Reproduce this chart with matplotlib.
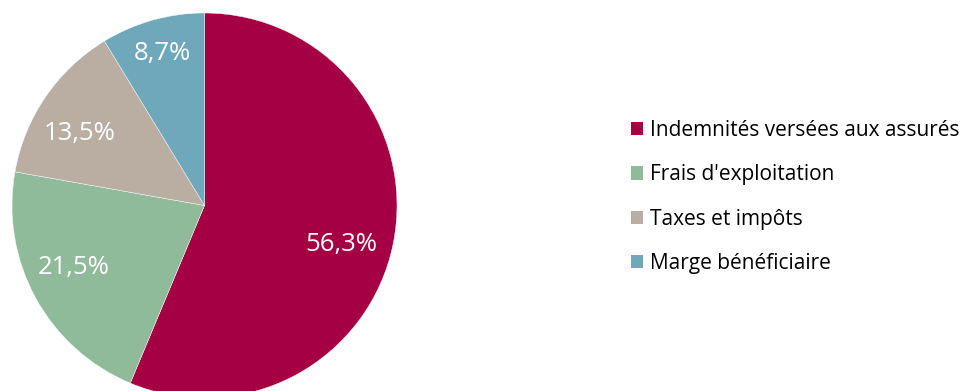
import matplotlib
matplotlib.use('Agg')
import matplotlib.pyplot as plt

labels = ["Indemnités versées aux assurés", "Frais d'exploitation",
          "Taxes et impôts", "Marge bénéficiaire"]
values = [56.3, 21.5, 13.5, 8.7]
colors = ["#A50044", "#8FBB9A", "#BAADA2", "#6EA8BA"]

# where the percentage labels sit (in pie radius units)
label_pos = [(0.71, -0.20), (-0.68, -0.32), (-0.65, 0.375), (-0.22, 0.79)]

plt.rcParams['font.family'] = ['Open Sans', 'DejaVu Sans']

fig = plt.figure(figsize=(9.66, 3.91), dpi=100)
# pie axes in pixel terms: centre (204, 205), radius ~192
ax = fig.add_axes([12 / 966, -7 / 391, 385 / 966, 385 / 391])
wedges, texts, autotexts = ax.pie(
    values, colors=colors, startangle=90, counterclock=False,
    autopct=lambda p: ("%.1f%%" % p).replace(".", ","),
    pctdistance=0.76, radius=1.0,
    wedgeprops=dict(linewidth=0.3, edgecolor='white'),
    textprops=dict(color='white', fontsize=18.5))
for w in wedges:
    w.set_clip_on(False)
for t, p in zip(autotexts, label_pos):
    t.set_position(p)
ax.set_xlim(-1, 1)
ax.set_ylim(-1, 1)
ax.set_aspect('equal')
ax.axis('off')

leg = fig.legend(wedges, labels, loc='center left',
                 bbox_to_anchor=(612 / 966, 194 / 391),
                 frameon=False, fontsize=15,
                 handlelength=0.6, handleheight=0.6,
                 handletextpad=0.3, labelspacing=1.12)
for h in leg.legend_handles:
    h.set_edgecolor('none')

fig.savefig("out.png", dpi=100)
